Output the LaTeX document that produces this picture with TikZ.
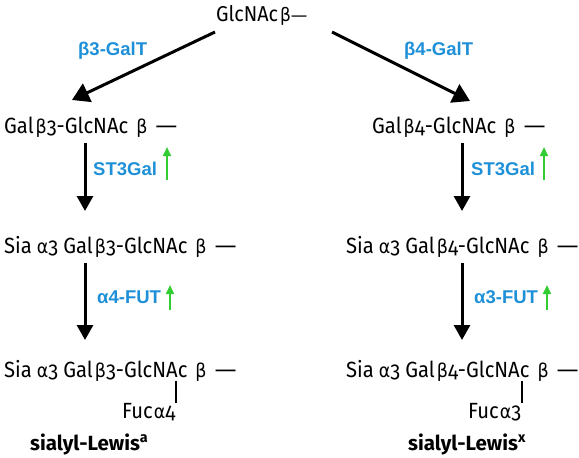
\documentclass[tikz,border=0pt]{standalone}
\usepackage{fontspec}
\setmainfont{Fira Sans}[FakeStretch=0.92]
\newfontfamily\titlefont{Fira Sans}
\newfontfamily\lblfont{Liberation Sans}
\newfontfamily\grkfont{DejaVu Sans}[FakeStretch=0.92]
\usetikzlibrary{arrows.meta}
\definecolor{enzblue}{HTML}{1E90D8}
\definecolor{upgreen}{HTML}{33CC33}
\newcommand{\os}[1]{{\addfontfeatures{Numbers=OldStyle}#1}}
\newcommand{\gb}{{\grkfont\fontsize{19}{22}\selectfont β}}
\newcommand{\ga}{{\grkfont\fontsize{19}{22}\selectfont α}}
\newcommand{\gbs}{{\grkfont\fontsize{18.5}{21}\selectfont β}}
\newcommand{\dsh}{{\grkfont\fontsize{24}{26}\selectfont —}}
\newcommand{\dshs}{{\grkfont\fontsize{18}{21}\selectfont —}}
% Gal-beta-n-GlcNAc beta --
\newcommand{\galglc}[1]{Gal\hspace{2pt}\gb\os{#1}-GlcNAc\hspace{8pt}\gb\hspace{8pt}\dsh}
\newcommand{\sia}{Sia\hspace{5pt}\ga\os{3}\hspace{5pt}}
\tikzset{
  sugar/.style={anchor=base west, inner sep=0pt, font=\fontsize{22}{26}\selectfont},
  sugartop/.style={anchor=base west, inner sep=0pt, font=\fontsize{21.5}{25}\selectfont},
  enz/.style={anchor=base west, inner sep=0pt, text=enzblue, font=\lblfont\bfseries\fontsize{18.5}{22}\selectfont},
  title/.style={anchor=base west, inner sep=0pt, font=\titlefont\bfseries\fontsize{20.5}{24}\selectfont},
  bigarrow/.style={line width=3pt, -{Triangle[width=20pt,length=17pt]}},
  vertarrow/.style={line width=3pt, -{Triangle[width=16pt,length=15pt]}},
  uparrow/.style={draw=upgreen, line width=2.2pt, -{Triangle[width=8pt,length=9pt]}, upgreen},
  link/.style={line width=1.3pt}
}
\begin{document}
\begin{tikzpicture}[x=1pt,y=-1pt]
\useasboundingbox (0,0) rectangle (579,458);
% row 0
\node[sugartop] (g0) at (216,21) {GlcNAc\hspace{2pt}\gbs\dshs};
% row 1
\node[sugar] (l1) at (4,133) {\galglc{3}};
\node[sugar] (r1) at (372,133) {\galglc{4}};
% row 2
\node[sugar] (l2) at (4,253) {\sia\galglc{3}};
\node[sugar] (r2) at (346,253) {\sia\galglc{4}};
% row 3
\node[sugar] (l3) at (4,377) {\sia\galglc{3}};
\node[sugar] (r3) at (346,377) {\sia\galglc{4}};
% fuc
\node[sugar] (fl) at (122,418) {Fuc\hspace{1pt}\ga\os{4}};
\node[sugar] (fr) at (468,418) {Fuc\hspace{1pt}\ga\os{3}};
\coordinate (flt) at (176,381);
\coordinate (frt) at (522,381);
\draw[link] (flt) -- (flt |- fl.north);
\draw[link] (frt) -- (frt |- fr.north);
% titles
\node[title] (ta) at (30,450) {sialyl-Lewis\textsuperscript{a}};
\node[title] (tx) at (408,450) {sialyl-Lewis\textsuperscript{x}};
% enzymes
\node[enz] (e1) at (78,55) {β3-GalT};
\node[enz] (e2) at (404,55) {β4-GalT};
\node[enz] (e3) at (93,175) {ST3Gal};
\node[enz] (e4) at (471,175) {ST3Gal};
\node[enz] (e5) at (97,303) {α4-FUT};
\node[enz] (e6) at (474,303) {α3-FUT};
% main arrows
\coordinate (a1s) at (215,32); \coordinate (a1e) at (72,100);
\coordinate (a2s) at (332,32); \coordinate (a2e) at (470,101);
\draw[bigarrow] (a1s) -- (a1e);
\draw[bigarrow] (a2s) -- (a2e);
\coordinate (v1s) at (85,143); \coordinate (v1e) at (85,211);
\coordinate (v2s) at (462,143); \coordinate (v2e) at (462,211);
\coordinate (v3s) at (85,263); \coordinate (v3e) at (85,340);
\coordinate (v4s) at (462,263); \coordinate (v4e) at (462,340);
\draw[vertarrow] (v1s) -- (v1e);
\draw[vertarrow] (v2s) -- (v2e);
\draw[vertarrow] (v3s) -- (v3e);
\draw[vertarrow] (v4s) -- (v4e);
% green up arrows
\coordinate (u1s) at (167,180); \coordinate (u1e) at (167,147);
\coordinate (u2s) at (544,180); \coordinate (u2e) at (544,147);
\coordinate (u3s) at (170,310); \coordinate (u3e) at (170,285);
\coordinate (u4s) at (547,310); \coordinate (u4e) at (547,285);
\draw[uparrow] (u1s) -- (u1e);
\draw[uparrow] (u2s) -- (u2e);
\draw[uparrow] (u3s) -- (u3e);
\draw[uparrow] (u4s) -- (u4e);
\end{tikzpicture}
\end{document}
